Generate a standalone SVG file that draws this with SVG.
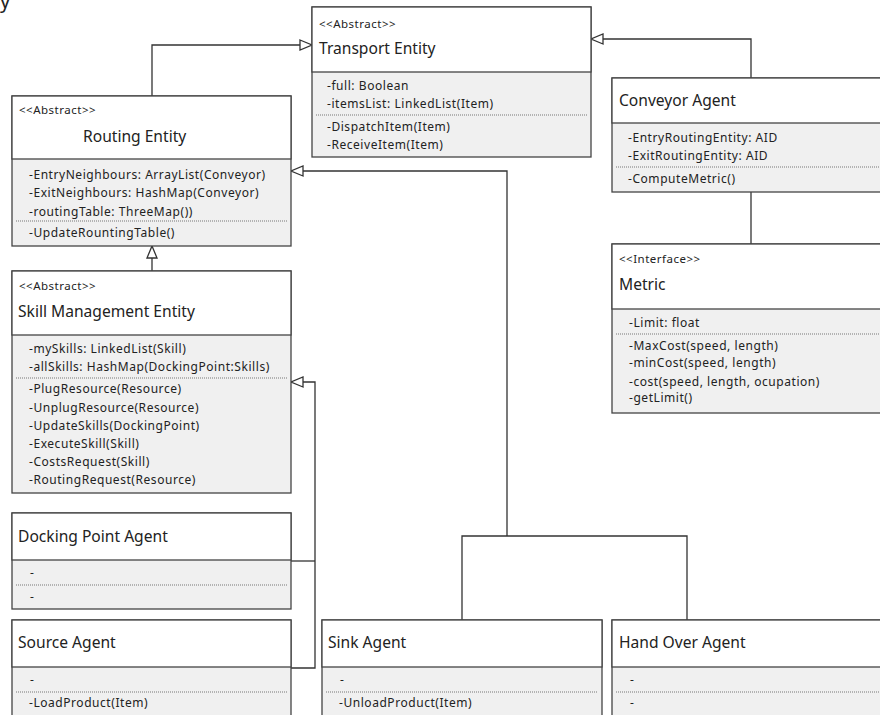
<svg xmlns="http://www.w3.org/2000/svg" width="880" height="715" viewBox="0 0 880 715">
<style>
.hdr{fill:#ffffff;stroke:#444;stroke-width:1.3}
.body{fill:#f0f0f0;stroke:#444;stroke-width:1.3}
.dot{stroke:#777;stroke-width:1;stroke-dasharray:1,1;fill:none}
.st{font-family:"Noto Sans","Open Sans",sans-serif;font-size:11.5px;letter-spacing:0.5px;fill:#222}
.tt{font-family:"Noto Sans","Open Sans",sans-serif;font-size:15.6px;fill:#222}
.at{font-family:"Noto Sans","Open Sans",sans-serif;font-size:12px;letter-spacing:0.55px;fill:#222}
.con{fill:none;stroke:#333;stroke-width:1.3}
</style>
<defs>
<marker id="gen" markerWidth="16" markerHeight="14" refX="14" refY="7" orient="auto" markerUnits="userSpaceOnUse">
<path d="M2,2 L14,7 L2,12 Z" fill="#fff" stroke="#333" stroke-width="1.3"/>
</marker>
</defs>
<rect width="880" height="715" fill="#fff"/>
<text x="0" y="8" style="font-family:'Noto Sans',sans-serif;font-size:20px;fill:#222">y</text>

<g id="connectors">
<path class="con" d="M152,96 V45 H312" marker-end="url(#gen)"/>
<path class="con" d="M751,78 V39 H591" marker-end="url(#gen)"/>
<path class="con" d="M751,192 V244"/>
<path class="con" d="M152,271 V246" marker-end="url(#gen)"/>
<path class="con" d="M291,561 H315"/>
<path class="con" d="M291,668 H315 V382 H291" marker-end="url(#gen)"/>
<path class="con" d="M462,620 V536 H687 V620"/>
<path class="con" d="M507,536 V171 H291" marker-end="url(#gen)"/>
</g>

<g id="transport-entity">
<rect class="body" x="312" y="7" width="279" height="150"/>
<rect class="hdr" x="312" y="7" width="279" height="65"/>
<text class="st" x="319" y="28">&lt;&lt;Abstract&gt;&gt;</text>
<text class="tt" x="319" y="54">Transport Entity</text>
<text class="at" x="327" y="90">-full: Boolean</text>
<text class="at" x="327" y="108">-itemsList: LinkedList(Item)</text>
<line class="dot" x1="316" y1="115" x2="587" y2="115"/>
<text class="at" x="327" y="131">-DispatchItem(Item)</text>
<text class="at" x="327" y="149">-ReceiveItem(Item)</text>
</g>

<g id="routing-entity">
<rect class="body" x="12" y="96" width="279" height="150"/>
<rect class="hdr" x="12" y="96" width="279" height="63"/>
<text class="st" x="19" y="114">&lt;&lt;Abstract&gt;&gt;</text>
<text class="tt" x="83" y="142">Routing Entity</text>
<text class="at" x="29" y="179">-EntryNeighbours: ArrayList(Conveyor)</text>
<text class="at" x="29" y="197">-ExitNeighbours: HashMap(Conveyor)</text>
<text class="at" x="29" y="216">-routingTable: ThreeMap())</text>
<line class="dot" x1="16" y1="221" x2="287" y2="221"/>
<text class="at" x="29" y="237">-UpdateRountingTable()</text>
</g>

<g id="conveyor-agent">
<rect class="body" x="612" y="78" width="280" height="114"/>
<rect class="hdr" x="612" y="78" width="280" height="45"/>
<text class="tt" x="619" y="106">Conveyor Agent</text>
<text class="at" x="628" y="142">-EntryRoutingEntity: AID</text>
<text class="at" x="628" y="160">-ExitRoutingEntity: AID</text>
<line class="dot" x1="616" y1="167" x2="880" y2="167"/>
<text class="at" x="628" y="183">-ComputeMetric()</text>
</g>

<g id="metric">
<rect class="body" x="612" y="244" width="280" height="169"/>
<rect class="hdr" x="612" y="244" width="280" height="65"/>
<text class="st" x="619" y="263">&lt;&lt;Interface&gt;&gt;</text>
<text class="tt" x="619" y="290">Metric</text>
<text class="at" x="629" y="327">-Limit: float</text>
<line class="dot" x1="616" y1="334" x2="880" y2="334"/>
<text class="at" x="629" y="350">-MaxCost(speed, length)</text>
<text class="at" x="629" y="367">-minCost(speed, length)</text>
<text class="at" x="629" y="386">-cost(speed, length, ocupation)</text>
<text class="at" x="629" y="402">-getLimit()</text>
</g>

<g id="skill-management-entity">
<rect class="body" x="12" y="271" width="279" height="222"/>
<rect class="hdr" x="12" y="271" width="279" height="64"/>
<text class="st" x="19" y="290">&lt;&lt;Abstract&gt;&gt;</text>
<text class="tt" x="18" y="317">Skill Management Entity</text>
<text class="at" x="29" y="353">-mySkills: LinkedList(Skill)</text>
<text class="at" x="29" y="371">-allSkills: HashMap(DockingPoint:Skills)</text>
<line class="dot" x1="16" y1="378" x2="287" y2="378"/>
<text class="at" x="29" y="393">-PlugResource(Resource)</text>
<text class="at" x="29" y="412">-UnplugResource(Resource)</text>
<text class="at" x="29" y="430">-UpdateSkills(DockingPoint)</text>
<text class="at" x="29" y="448">-ExecuteSkill(Skill)</text>
<text class="at" x="29" y="466">-CostsRequest(Skill)</text>
<text class="at" x="29" y="484">-RoutingRequest(Resource)</text>
</g>

<g id="docking-point-agent">
<rect class="body" x="12" y="513" width="279" height="96"/>
<rect class="hdr" x="12" y="513" width="279" height="47"/>
<text class="tt" x="18" y="542">Docking Point Agent</text>
<text class="at" x="30" y="577">-</text>
<line class="dot" x1="16" y1="585" x2="287" y2="585"/>
<text class="at" x="30" y="601">-</text>
</g>

<g id="source-agent">
<rect class="body" x="12" y="620" width="279" height="110"/>
<rect class="hdr" x="12" y="620" width="279" height="47"/>
<text class="tt" x="18" y="648">Source Agent</text>
<text class="at" x="30" y="684">-</text>
<line class="dot" x1="16" y1="692" x2="287" y2="692"/>
<text class="at" x="29" y="707">-LoadProduct(Item)</text>
</g>

<g id="sink-agent">
<rect class="body" x="322" y="620" width="280" height="110"/>
<rect class="hdr" x="322" y="620" width="280" height="47"/>
<text class="tt" x="328" y="648">Sink Agent</text>
<text class="at" x="340" y="684">-</text>
<line class="dot" x1="326" y1="692" x2="598" y2="692"/>
<text class="at" x="339" y="707">-UnloadProduct(Item)</text>
</g>

<g id="hand-over-agent">
<rect class="body" x="612" y="620" width="280" height="110"/>
<rect class="hdr" x="612" y="620" width="280" height="47"/>
<text class="tt" x="619" y="648">Hand Over Agent</text>
<text class="at" x="630" y="684">-</text>
<line class="dot" x1="616" y1="692" x2="880" y2="692"/>
<text class="at" x="630" y="707">-</text>
</g>
</svg>
